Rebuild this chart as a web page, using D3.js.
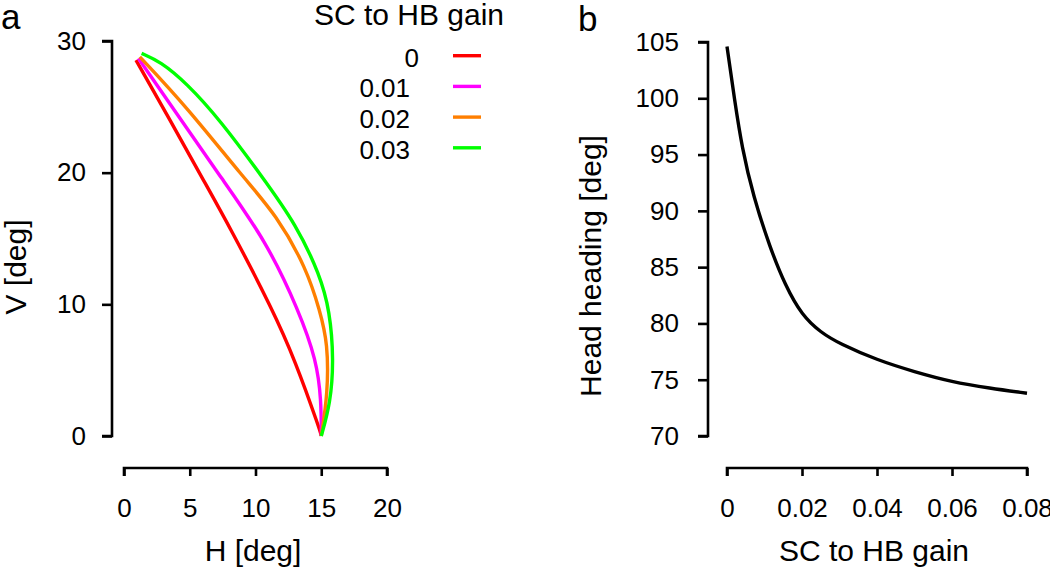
<!DOCTYPE html>
<html><head><meta charset="utf-8">
<script src="https://cdn.jsdelivr.net/npm/d3@7"></script>
<style>body{margin:0;background:#fff}svg{display:block}text{font-family:"Liberation Sans",Arial,sans-serif;fill:#000}</style>
</head><body><svg id="c" width="1050" height="571"></svg>
<script>
// ---- Data (panel a) ----
const gainLabels = ["0", "0.01", "0.02", "0.03"];
const seriesColors = ["#ff0000", "#ff00ff", "#ff7f00", "#00ff00"];
const redH = [0.91, 3.5, 6.0, 8.1, 11.3, 13.0, 14.9, 15.0];
const redV = [28.55, 24.0, 19.5, 15.77, 9.6, 5.77, 0.46, 0];
const magH = [1.09, 4.0, 7.4, 10.84, 13.3, 14.64, 15.0, 15.0];
const magV = [28.68, 24.5, 19.6, 14.76, 9.5, 5.77, 2.7, 0];
const oraH = [1.2, 4.76, 9.1, 11.6, 13.88, 14.9, 15.5, 15.5, 15.0];
const oraV = [28.8, 25.0, 19.6, 16.78, 12.73, 9.5, 7.04, 3.24, 0];
const greH = [1.34, 2.74, 4.76, 7.3, 10.5, 13.12, 14.9, 15.65, 15.95, 15.7, 15.0];
const greV = [29.06, 28.45, 26.8, 24.0, 19.7, 16.02, 12.22, 9.5, 5.77, 2.48, 0];
const aXTicks = [0, 5, 10, 15, 20];
const aYTicks = [0, 10, 20, 30];
// ---- Data (panel b) ----
const gain = [0, 0.002, 0.004, 0.007, 0.0115, 0.0155, 0.02, 0.025, 0.03, 0.04, 0.05, 0.06, 0.07, 0.08];
const heading = [104.6, 99.9, 95.6, 91.3, 86.7, 83.4, 80.7, 79.2, 78.2, 76.75, 75.7, 74.8, 74.25, 73.8];
const bXTicks = [0, 0.02, 0.04, 0.06, 0.08];
const bYTicks = [70, 75, 80, 85, 90, 95, 100, 105];

const svg = d3.select("#c");
const TICK_FS = 26, LAB_FS = 30;

function axes(g, x, y, xTicks, yTicks, xFmt, yFmt, xAxisY, yAxisX, yPad) {
  const ax = g.append("g").attr("transform", `translate(0,${xAxisY})`)
    .call(d3.axisBottom(x).tickValues(xTicks).tickFormat(xFmt).tickSize(8).tickPadding(23));
  const ay = g.append("g").attr("transform", `translate(${yAxisX},0)`)
    .call(d3.axisLeft(y).tickValues(yTicks).tickFormat(yFmt).tickSize(10).tickPadding(yPad));
  [ax, ay].forEach(a => {
    a.select(".domain").attr("stroke", "#000").attr("stroke-width", 2.6);
    a.selectAll(".tick line").attr("stroke", "#000").attr("stroke-width", 2.6);
    a.selectAll(".tick text").attr("font-size", TICK_FS).attr("font-family", "Liberation Sans, Arial, sans-serif").attr("fill", "#000");
  });
  ax.select(".domain").attr("d", `M${x(xTicks[0])},8V0H${x(xTicks[xTicks.length-1])}V8`);
  ay.select(".domain").attr("d", `M-10,${y(yTicks[0])}H0V${y(yTicks[yTicks.length-1])}H-10`);
}

// ---- Panel a ----
const xa = d3.scaleLinear().domain([0, 20]).range([124, 387]);
const ya = d3.scaleLinear().domain([0, 30]).range([436, 41]);
const ga = svg.append("g");
axes(ga, xa, ya, aXTicks, aYTicks, d3.format("d"), d3.format("d"), 468, 112, 16);
const seriesA = [[redH, redV], [magH, magV], [oraH, oraV], [greH, greV]];
const lineA = d3.line().x(d => xa(d[0])).y(d => ya(d[1])).curve(d3.curveBasis);
seriesA.forEach((s, i) => {
  const pts = s[0].map((h, k) => [h, s[1][k]]);
  ga.append("path").attr("d", lineA(pts)).attr("fill", "none")
    .attr("stroke", seriesColors[i]).attr("stroke-width", 3.4).attr("stroke-linejoin", "round");
});
ga.append("text").attr("x", 253).attr("y", 561).attr("text-anchor", "middle").attr("font-size", LAB_FS).text("H [deg]");
ga.append("text").attr("transform", "translate(26,267) rotate(-90)").attr("text-anchor", "middle").attr("font-size", LAB_FS).text("V [deg]");
ga.append("text").attr("x", 1).attr("y", 29).attr("font-size", 35).text("a");
// legend
ga.append("text").attr("x", 409).attr("y", 25).attr("text-anchor", "middle").attr("font-size", LAB_FS).text("SC to HB gain");
const leg = ga.selectAll(".leg").data(gainLabels).enter().append("g");
leg.append("text").attr("x", (d, i) => i === 0 ? 419 : 410).attr("y", (d, i) => 66.5 + i * 30.7)
  .attr("text-anchor", "end").attr("font-size", TICK_FS).text(d => d);
leg.append("line").attr("x1", 453).attr("x2", 481).attr("y1", (d, i) => 55.7 + i * 30.7).attr("y2", (d, i) => 55.7 + i * 30.7)
  .attr("stroke", (d, i) => seriesColors[i]).attr("stroke-width", 3.4);

// ---- Panel b ----
const xb = d3.scaleLinear().domain([0, 0.08]).range([727, 1027]);
const yb = d3.scaleLinear().domain([70, 105]).range([436, 42]);
const gb = svg.append("g");
axes(gb, xb, yb, bXTicks, bYTicks, d => d === 0 ? "0" : d3.format(".2f")(d), d3.format("d"), 468, 708, 19);
const lineB = d3.line().x(d => xb(d[0])).y(d => yb(d[1])).curve(d3.curveBasis);
gb.append("path").attr("d", lineB(gain.map((g, k) => [g, heading[k]]))).attr("fill", "none")
  .attr("stroke", "#000").attr("stroke-width", 3.4);
gb.append("text").attr("x", 874).attr("y", 561).attr("text-anchor", "middle").attr("font-size", LAB_FS).text("SC to HB gain");
gb.append("text").attr("transform", "translate(601,266) rotate(-90)").attr("text-anchor", "middle").attr("font-size", LAB_FS).text("Head heading [deg]");
gb.append("text").attr("x", 578).attr("y", 31).attr("font-size", 35).text("b");
</script></body></html>
